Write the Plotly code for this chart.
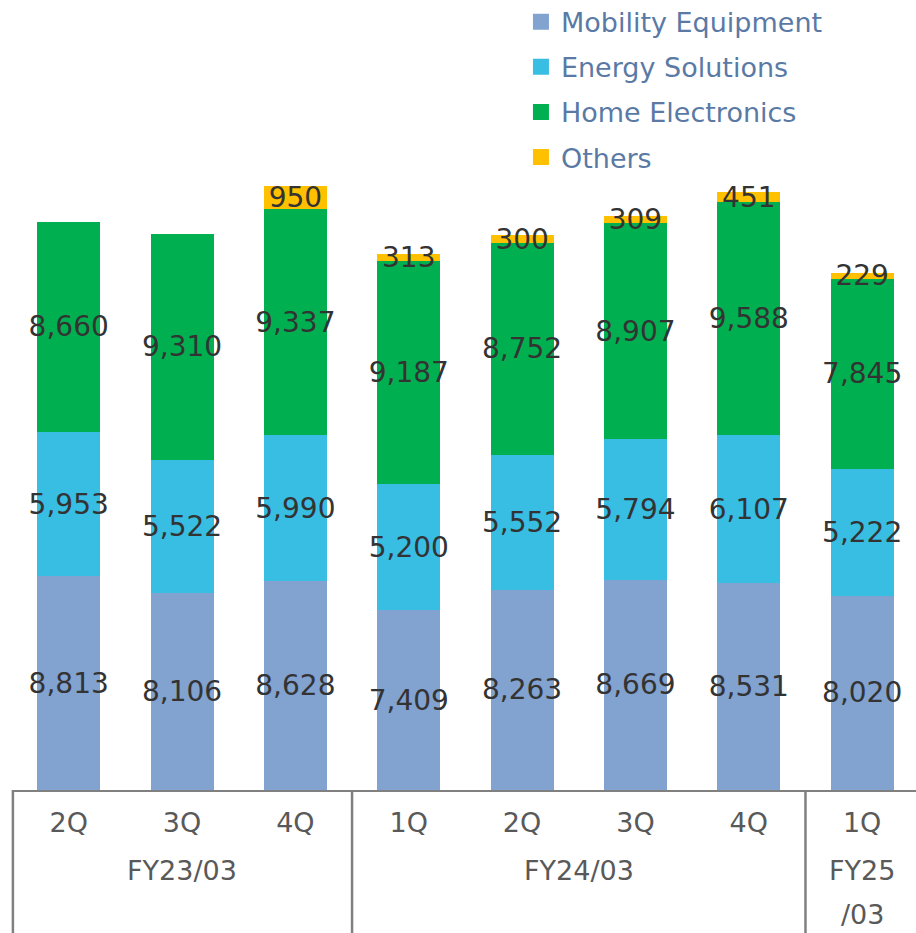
import plotly.graph_objects as go

quarters = ["2Q", "3Q", "4Q", "1Q", "2Q", "3Q", "4Q", "1Q"]
fiscal_years = ["FY23/03", "FY24/03", "FY25", "/03"]
mobility = [8813, 8106, 8628, 7409, 8263, 8669, 8531, 8020]
energy = [5953, 5522, 5990, 5200, 5552, 5794, 6107, 5222]
home = [8660, 9310, 9337, 9187, 8752, 8907, 9588, 7845]
others = [None, None, 950, 313, 300, 309, 451, 229]

series = [
    ("Mobility Equipment", mobility, "#82A2D0"),
    ("Energy Solutions", energy, "#38BDE3"),
    ("Home Electronics", home, "#00B050"),
    ("Others", others, "#FFC000"),
]

FONT = "DejaVu Sans"
x = list(range(len(quarters)))

fig = go.Figure()
for name, vals, col in series:
    fig.add_trace(go.Bar(
        x=x, y=vals, name=name, marker=dict(color=col, line=dict(width=0)),
        texttemplate="%{y:,}", textposition="inside", insidetextanchor="middle",
        textangle=0,
        textfont=dict(family=FONT, size=28, color="#333333"),
        constraintext="none", cliponaxis=False, showlegend=False,
    ))
for i, (name, vals, col) in enumerate(series):
    fig.add_trace(go.Scatter(
        x=[None], y=[None], mode="markers", name=name, legendgroup=f"g{i}",
        marker=dict(symbol="square", size=16, color=col),
    ))

fig.update_layout(
    width=916, height=933, barmode="stack", bargap=0.444,
    margin=dict(l=12, r=0, t=0, b=143, autoexpand=False),
    plot_bgcolor="white", paper_bgcolor="white",
    uniformtext=dict(mode="show", minsize=28),
    legend=dict(x=0.563, y=1.003, xanchor="left", yanchor="top",
                font=dict(family=FONT, size=27, color="#5A7AA5"),
                traceorder="grouped", tracegroupgap=7, bgcolor="rgba(0,0,0,0)"),
    font=dict(family=FONT),
)
fig.update_xaxes(range=[-0.5, 7.475], tickvals=x, ticktext=quarters,
                 showline=True, linecolor="#808080", linewidth=2,
                 ticks="outside", ticklen=8, tickcolor="rgba(0,0,0,0)",
                 tickfont=dict(family=FONT, size=27, color="#595959"),
                 showgrid=False, zeroline=False, fixedrange=True)
fig.update_yaxes(range=[0, 32575], visible=False, showgrid=False, zeroline=False)

for xv in [2.5, 6.5]:
    fig.add_shape(type="line", xref="x", yref="paper", x0=xv, x1=xv, y0=0, y1=-0.2,
                  line=dict(color="#808080", width=2.5))
fig.add_shape(type="line", xref="paper", yref="paper", x0=0.001, x1=0.001, y0=0, y1=-0.2,
              line=dict(color="#808080", width=2.5))

ann_pos = [(1, -0.1013), (4.5, -0.1013), (7, -0.1013), (7, -0.1582)]
for txt, (xv, yv) in zip(fiscal_years, ann_pos):
    fig.add_annotation(x=xv, y=yv, xref="x", yref="paper", text=txt, showarrow=False,
                       xanchor="center", yanchor="middle",
                       font=dict(family=FONT, size=27, color="#595959"))

fig.write_html("out.html")
